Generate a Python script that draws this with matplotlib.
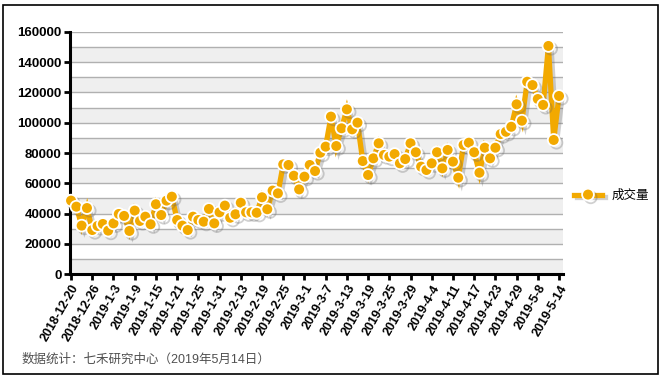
import matplotlib
matplotlib.use("Agg")
import matplotlib.pyplot as plt
import matplotlib.patheffects as pe
from matplotlib.patches import Rectangle

plt.rcParams["font.family"] = ["Liberation Sans", "Noto Sans CJK SC", "DejaVu Sans"]

# trading-day volume, 2018-12-20 .. 2019-5-14
volume = [
    48600, 44600, 32100, 43700, 29200, 31900, 33200, 28800, 33600, 39800,
    38500, 28600, 42000, 35200, 38000, 33000, 46200, 39100, 48600, 51200,
    35800, 32100, 29200, 38000, 35800, 34700, 43100, 33600, 40900, 45300,
    37300, 39600, 47200, 40900, 40900, 40600, 50800, 42900, 55200, 53400,
    72500, 72100, 65000, 56000, 64400, 72100, 68100, 80200, 84200, 104000,
    84600, 96300, 108800, 95600, 100000, 74700, 65500, 76500, 86400, 78700,
    77600, 79300, 73200, 76000, 86400, 80500, 71000, 68800, 73200, 80500,
    69900, 82000, 74300, 63700, 85300, 86800, 80500, 67000, 83500, 76500,
    83500, 92500, 94000, 97300, 112100, 101300, 127000, 124800, 115600, 111700,
    150600, 88600, 117600,
]

tick_labels = [
    "2018-12-20", "2018-12-26", "2019-1-3", "2019-1-9", "2019-1-15", "2019-1-21",
    "2019-1-25", "2019-1-31", "2019-2-13", "2019-2-19", "2019-2-25", "2019-3-1",
    "2019-3-7", "2019-3-13", "2019-3-19", "2019-3-25", "2019-3-29", "2019-4-4",
    "2019-4-11", "2019-4-17", "2019-4-23", "2019-4-29", "2019-5-8", "2019-5-14",
]
TICK_STEP = 4
series_name = "成交量"
footer = "数据统计：七禾研究中心（2019年5月14日）"

ORANGE = "#F2A900"

W, H = 661, 379
fig = plt.figure(figsize=(W / 100, H / 100), dpi=100)

# outer frame
fig.patches.append(Rectangle((3 / W, 5 / H), 655 / W, 369 / H, transform=fig.transFigure,
                             fill=False, edgecolor="black", linewidth=1.2))

ax = fig.add_axes([70 / W, 1 - 274.3 / H, 493 / W, 242.6 / H])

x = list(range(len(volume)))
ax.set_xlim(-0.2, len(volume) - 1 + 0.75)
ax.set_ylim(0, 160000)

# alternating bands + grid every 10000
for k in range(0, 16, 2):
    ax.axhspan(k * 10000, (k + 1) * 10000, color="#efefef", zorder=0, lw=0)
for k in range(1, 17):
    ax.axhline(k * 10000, color="#b0b0b0", linewidth=1.0, zorder=1)

line, = ax.plot(x, volume, color=ORANGE, linewidth=3.8, marker="o", markersize=8.5,
                markerfacecolor=ORANGE, markeredgecolor="white", markeredgewidth=1.3,
                solid_joinstyle="miter", zorder=3, clip_on=False, label=series_name)
line.set_path_effects([pe.SimpleLineShadow(offset=(2, -2), shadow_color="#666666", alpha=0.3),
                       pe.Normal()])

ax.set_yticks(range(0, 160001, 20000))
ax.set_yticklabels([str(v) for v in range(0, 160001, 20000)], fontsize=9.5, fontweight="bold")
ax.set_xticks(x[::TICK_STEP])
ax.set_xticklabels(tick_labels, rotation=60, ha="right", rotation_mode="anchor",
                   fontsize=9, fontweight="bold")

for side in ("top", "right"):
    ax.spines[side].set_visible(False)
for side in ("left", "bottom"):
    ax.spines[side].set_linewidth(2.2)
    ax.spines[side].set_color("black")
ax.tick_params(axis="both", direction="out", length=4, width=2, color="black", pad=2)

leg = ax.legend(loc="center left", bbox_to_anchor=(1.0, 0.325), frameon=False,
                prop={"family": ["Noto Sans CJK SC"], "size": 9},
                handlelength=2.2, handletextpad=0.8)

fig.text(22 / W, 1 - 360 / H, footer, fontsize=9, color="#505050", va="center",
         family=["Liberation Sans", "Noto Sans CJK SC"])

fig.savefig("out.png", dpi=100)
